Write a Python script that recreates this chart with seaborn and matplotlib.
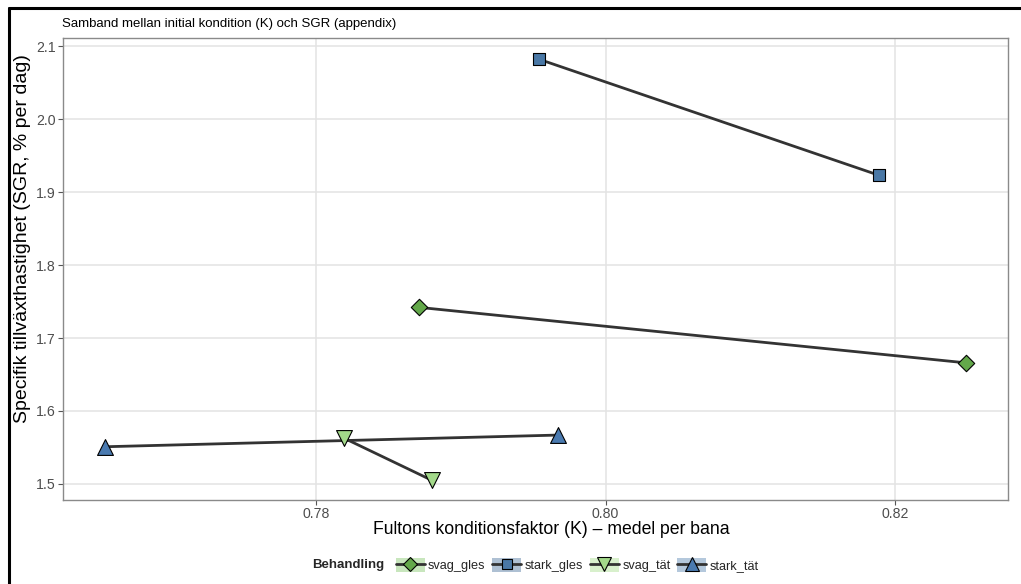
import matplotlib
matplotlib.use("Agg")
import matplotlib.pyplot as plt
import pandas as pd
import seaborn as sns
from matplotlib.lines import Line2D
from matplotlib.patches import Patch
from matplotlib.legend_handler import HandlerTuple

# data
behandling = ["svag_gles", "svag_gles", "stark_gles", "stark_gles",
              "svag_tät", "svag_tät", "stark_tät", "stark_tät"]
kondition = [0.7871, 0.8249, 0.7954, 0.8189, 0.7819, 0.7880, 0.7654, 0.7967]
sgr = [1.742, 1.666, 2.082, 1.923, 1.563, 1.505, 1.551, 1.567]

order = ["svag_gles", "stark_gles", "svag_tät", "stark_tät"]
fill_colors = {"svag_gles": "#63a84a", "stark_gles": "#4a78a6",
               "svag_tät": "#a3d98a", "stark_tät": "#4a7ab0"}
key_colors = {"svag_gles": "#c8e6bd", "stark_gles": "#aec0d3",
              "svag_tät": "#d8f0cc", "stark_tät": "#b4c8dc"}
shapes = {"svag_gles": "D", "stark_gles": "s", "svag_tät": "v", "stark_tät": "^"}
sizes = {"svag_gles": 70, "stark_gles": 70, "svag_tät": 130, "stark_tät": 130}

df = pd.DataFrame({"Behandling": behandling, "K": kondition, "SGR": sgr})

sns.set_theme(style="whitegrid")
plt.rcParams["font.family"] = ["Liberation Sans", "DejaVu Sans"]

fig = plt.figure(figsize=(10.21, 5.84), dpi=100)
ax = fig.add_axes([0.0617, 0.1438, 0.9253, 0.791])

# connecting lines within each treatment
sns.lineplot(data=df, x="K", y="SGR", units="Behandling", estimator=None,
             color="#333333", linewidth=2, sort=True, ax=ax, zorder=2)

for b in order:
    sub = df[df["Behandling"] == b]
    sns.scatterplot(data=sub, x="K", y="SGR", marker=shapes[b], s=sizes[b],
                    color=fill_colors[b], edgecolor="black", linewidth=0.8,
                    ax=ax, zorder=3, legend=False)

ax.set_xlim(0.7625, 0.8278)
ax.set_ylim(1.478, 2.111)
ax.set_xticks([0.78, 0.80, 0.82])
ax.set_xticklabels(["0.78", "0.80", "0.82"])
ax.set_yticks([1.5, 1.6, 1.7, 1.8, 1.9, 2.0, 2.1])
ax.set_yticklabels(["1.5", "1.6", "1.7", "1.8", "1.9", "2.0", "2.1"])

ax.grid(True, color="#e3e3e3", linewidth=1.1)
for side in ax.spines.values():
    side.set_color("#8a8a8a")
    side.set_linewidth(1.0)
ax.tick_params(axis="both", which="major", length=3.5, width=0.8, color="#555555",
               labelsize=10.2, labelcolor="#4d4d4d", pad=1.5, bottom=True, left=True)

ax.set_xlabel("Fultons konditionsfaktor (K) \u2013 medel per bana", fontsize=12.7,
              color="black")
ax.xaxis.set_label_coords(0.517, -0.046)
ax.set_ylabel("Specifik tillväxthastighet (SGR, % per dag)", fontsize=14.0,
              color="black")
ax.yaxis.set_label_coords(-0.034, 0.565)
ax.set_title("Samband mellan initial kondition (K) och SGR (appendix)", loc="left",
             fontsize=9.5, color="black", pad=8, x=-0.001)

# legend at the bottom
handles = []
for b in order:
    bg = Patch(facecolor=key_colors[b], edgecolor="none")
    ln = Line2D([], [], color="#333333", linewidth=2, marker=shapes[b],
                markersize=9.5 if shapes[b] in ("v", "^") else 7.5,
                markerfacecolor=fill_colors[b], markeredgecolor="black",
                markeredgewidth=0.8)
    handles.append((bg, ln))

fig.text(0.3056, 0.0325, "Behandling", fontsize=9.5, fontweight="bold",
         va="center", ha="left")
fig.legend(handles, order, handler_map={tuple: HandlerTuple(ndivide=1, pad=0)},
           loc="center left", bbox_to_anchor=(0.3875, 0.0325), ncol=4, frameon=False,
           fontsize=9.2, handlelength=2.27, handleheight=1.33, handletextpad=0.25,
           columnspacing=0.55, borderaxespad=0, borderpad=0)

# frame on the left and top of the picture
fig.add_artist(Line2D([0.0088, 0.0088], [0.0, 0.986], transform=fig.transFigure,
                      color="black", linewidth=2.2))
fig.add_artist(Line2D([0.0088, 1.0], [0.986, 0.986], transform=fig.transFigure,
                      color="black", linewidth=2.2))

fig.savefig("out.png", dpi=100)
